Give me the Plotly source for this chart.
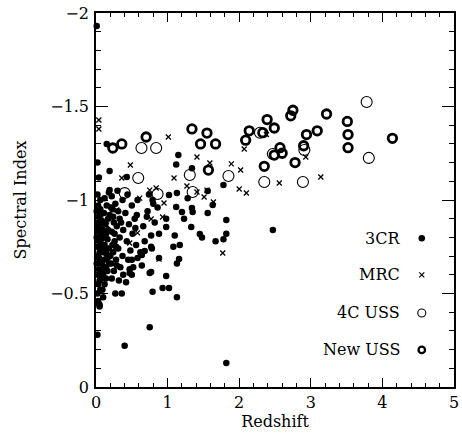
import plotly.graph_objects as go

# ---------------- data ----------------
cr3_z = [0.01, 0.02, 0.02, 0.03, 0.02, 0.04, 0.01, 0.03, 0.05, 0.02, 0.04, 0.01, 0.03, 0.05, 0.02, 0.04,
         0.01, 0.03, 0.06, 0.02, 0.04, 0.02, 0.03, 0.06, 0.07, 0.06, 0.08, 0.07, 0.08, 0.06, 0.05, 0.02,
         0.06, 0.04, 0.08, 0.05, 0.03, 0.05,
         0.10, 0.12, 0.10, 0.14, 0.11, 0.15, 0.12, 0.16, 0.10, 0.13, 0.17, 0.11, 0.15, 0.12, 0.18, 0.15,
         0.19, 0.19, 0.10, 0.18, 0.14, 0.17, 0.13, 0.18, 0.09, 0.11, 0.16,
         0.22, 0.25, 0.21, 0.28, 0.24, 0.31, 0.26, 0.33, 0.22, 0.29, 0.35, 0.24, 0.31, 0.27, 0.37, 0.22,
         0.30, 0.37, 0.38, 0.34, 0.27, 0.32, 0.38, 0.36, 0.23, 0.29,
         0.40, 0.43, 0.42, 0.45, 0.48, 0.43, 0.51, 0.46, 0.54, 0.41, 0.58, 0.56, 0.44, 0.52, 0.58, 0.55,
         0.47, 0.57, 0.50, 0.50, 0.47, 0.64, 0.50, 0.64, 0.68,
         0.62, 0.77, 0.68, 0.66, 0.71, 0.79, 0.74, 0.78, 0.75, 0.75, 0.77, 0.82, 0.88, 0.86, 0.88, 0.80,
         0.79, 0.72, 0.77,
         0.98, 1.02, 1.13, 1.12, 1.20, 1.15, 1.12, 1.13, 1.10, 0.98, 0.98, 1.16, 1.17, 1.13, 1.08, 1.23,
         1.34, 1.28, 1.34, 1.35, 1.56, 1.63, 1.82, 1.33, 1.48, 1.45, 1.82, 1.78, 1.67, 1.78, 1.56, 1.82,
         2.47, 1.02, 0.93,
         0.07, 0.09, 0.12, 0.14, 0.08, 0.20, 0.23, 0.26, 0.16, 0.19, 0.06, 0.21, 0.25, 0.28, 0.11, 0.33]
cr3_alpha = [-1.93, -0.28, -0.50, -0.55, -0.60, -0.63, -0.66, -0.70, -0.72, -0.75, -0.78, -0.80, -0.83, -0.86, -0.88, -0.91,
             -0.94, -0.97, -1.00, -1.03, -1.12, -1.20, -0.46, -0.52, -0.58, -0.67, -0.74, -0.81, -0.89, -0.95, -0.44, -0.85,
             -0.77, -0.69, -0.62, -0.57, -0.45, -0.43,
             -0.48, -0.55, -0.60, -0.64, -0.68, -0.71, -0.76, -0.79, -0.83, -0.87, -0.90, -0.93, -0.97, -1.01, -1.04, -1.30,
             -1.155, -1.053, -0.72, -0.66, -0.58, -0.84, -0.80, -0.74, -0.52, -0.88, -0.62,
             -0.58, -0.62, -0.66, -0.68, -0.72, -0.74, -0.78, -0.80, -0.83, -0.86, -0.88, -0.91, -0.94, -0.98, -1.00, -1.02,
             -1.05, -0.70, -0.60, -0.64, -0.50, -0.57, -0.84, -0.50, -0.95, -0.65,
             -0.22, -1.123, -0.56, -0.68, -0.73, -0.78, -0.82, -0.87, -0.90, -0.93, -1.00, -0.76, -1.03, -0.64, -0.69, -0.85,
             -0.61, -0.92, -0.60, -0.68, -0.63, -0.65, -0.97, -0.706, -0.727,
             -0.72, -0.75, -0.78, -0.86, -0.91, -1.00, -1.03, -0.74, -0.61, -0.32, -0.81, -0.88, -0.69, -0.96, -0.82, -0.98,
             -0.51, -0.94, -0.615,
             -0.856, -1.027, -1.037, -0.963, -0.936, -1.24, -1.19, -0.48, -0.81, -0.594, -0.90, -0.684, -0.76, -0.66, -0.75, -0.90,
             -1.17, -1.01, -0.957, -0.936, -0.93, -0.973, -0.893, -0.856, -0.80, -0.818, -0.82, -0.79, -0.78, -1.08, -1.048, -0.128,
             -0.84, -0.53, -0.53,
             -0.79, -0.84, -0.73, -0.82, -0.66, -0.70, -0.76, -0.82, -0.69, -0.92, -0.92, -0.96, -0.88, -0.75, -0.64, -0.90]

mrc_z = [0.04, 0.04, 1.01, 0.48, 1.41, 2.07, 1.59, 1.89, 2.02, 0.36, 0.84, 1.27, 1.41, 1.55, 2.00, 2.10,
         1.51, 1.64, 0.95, 2.56, 2.93, 3.14, 0.29, 0.77, 0.93, 1.77, 0.88, 0.47, 0.58, 0.75, 0.61, 1.09,
         0.23, 0.15, 2.38]
mrc_alpha = [-1.428, -1.38, -1.337, -1.187, -1.23, -1.273, -1.198, -1.193, -1.16, -1.118, -1.064, -1.075, -1.043, -1.053, -1.059, -1.037,
             -1.016, -0.989, -0.984, -1.091, -1.23, -1.123, -0.947, -0.898, -0.909, -0.717, -0.684, -0.77, -0.824, -1.053, -1.01, -1.118,
             -0.96, -0.866, -1.35]

uss4c_z = [0.635, 0.84, 0.59, 0.40, 0.86, 1.31, 1.85, 1.35, 2.35, 2.89, 2.91, 3.78, 3.81, 2.47, 2.29]
uss4c_alpha = [-1.278, -1.278, -1.118, -1.037, -1.032, -1.134, -1.128, -1.043, -1.096, -1.096, -1.267, -1.524, -1.225, -1.246, -1.36]

newuss_z = [0.235, 0.36, 0.70, 1.34, 1.55, 1.46, 1.67, 1.57, 2.14, 2.09, 2.39, 2.49, 2.33, 2.35,
            2.57, 2.49, 2.60, 2.75, 2.72, 3.22, 3.51, 2.94, 3.09, 3.52, 4.14, 3.52, 2.90, 2.78]
newuss_alpha = [-1.278, -1.30, -1.337, -1.38, -1.358, -1.30, -1.30, -1.16, -1.37, -1.32, -1.43, -1.385, -1.36, -1.18,
                -1.28, -1.24, -1.25, -1.48, -1.45, -1.46, -1.42, -1.35, -1.37, -1.35, -1.33, -1.28, -1.29, -1.20]

series_names = ["3CR", "MRC", "4C USS", "New USS"]

x_tickvals = [0, 1, 2, 3, 4, 5]
x_ticktext = ["0", "1", "2", "3", "4", "5"]
y_tickvals = [0, -0.5, -1, -1.5, -2]
y_ticktext = ["0", "\u22120.5", "\u22121", "\u22121.5", "\u22122"]

# ---------------- styles ----------------
FONT = "DejaVu Serif"
FS = 16
styles = [
    dict(symbol="circle", size=6.5, color="black", line=dict(width=0, color="black")),
    dict(symbol="x-thin", size=5, color="black", line=dict(width=1.3, color="black")),
    dict(symbol="circle-open", size=11, color="black", line=dict(width=1.1, color="black")),
    dict(symbol="circle-open", size=8.5, color="black", line=dict(width=2.8, color="black")),
]
legend_styles = [
    dict(symbol="circle", size=6.5, color="black", line=dict(width=0, color="black")),
    dict(symbol="x-thin", size=5, color="black", line=dict(width=1.2, color="black")),
    dict(symbol="circle-open", size=8, color="black", line=dict(width=1.1, color="black")),
    dict(symbol="circle-open", size=6.5, color="black", line=dict(width=2.3, color="black")),
]

fig = go.Figure()
data = [(cr3_z, cr3_alpha), (mrc_z, mrc_alpha), (uss4c_z, uss4c_alpha), (newuss_z, newuss_alpha)]
for (xs, ys), name, st in zip(data, series_names, styles):
    fig.add_trace(go.Scatter(x=xs, y=ys, mode="markers", name=name, marker=st,
                             showlegend=False, cliponaxis=False))

# legend keys, drawn on an overlay axis in the right-hand part of the plot
legend_x = 0.91
legend_y = [0.398, 0.300, 0.198, 0.099]
for name, st, ly in zip(series_names, legend_styles, legend_y):
    fig.add_trace(go.Scatter(x=[legend_x], y=[ly], mode="markers", marker=st,
                             xaxis="x2", yaxis="y2", showlegend=False, hoverinfo="skip"))
    fig.add_annotation(x=legend_x - 0.055, y=ly, xref="paper", yref="paper", text=name,
                       showarrow=False, xanchor="right", yanchor="middle",
                       font=dict(family=FONT, size=FS, color="black"))

axis_common = dict(showline=True, linecolor="black", linewidth=1.6, mirror="allticks",
                   ticks="inside", tickcolor="black", tickwidth=1.3, showgrid=False,
                   zeroline=False, automargin=False,
                   tickfont=dict(family=FONT, size=FS, color="black"))

fig.update_layout(
    width=462, height=439,
    margin=dict(l=96, r=8, t=13, b=52),
    paper_bgcolor="white", plot_bgcolor="white",
    showlegend=False,
    xaxis=dict(range=[0, 5], tickvals=x_tickvals, ticktext=x_ticktext, ticklen=9,
               minor=dict(dtick=0.2, ticks="inside", ticklen=4, tickcolor="black", tickwidth=1),
               title=dict(text="Redshift", font=dict(family=FONT, size=FS, color="black"), standoff=2),
               **axis_common),
    yaxis=dict(range=[0, -2], tickvals=y_tickvals, ticktext=y_ticktext, ticklen=12,
               minor=dict(dtick=0.1, ticks="inside", ticklen=5, tickcolor="black", tickwidth=1),
               title=dict(text="Spectral Index", font=dict(family=FONT, size=FS, color="black"), standoff=20),
               ticklabelstandoff=2,
               **axis_common),
    xaxis2=dict(range=[0, 1], overlaying="x", visible=False, fixedrange=True),
    yaxis2=dict(range=[0, 1], overlaying="y", visible=False, fixedrange=True),
)

fig.write_html("out.html", config={"displayModeBar": False},
               post_script="document.body.style.margin='0';document.body.style.overflow='hidden';")
